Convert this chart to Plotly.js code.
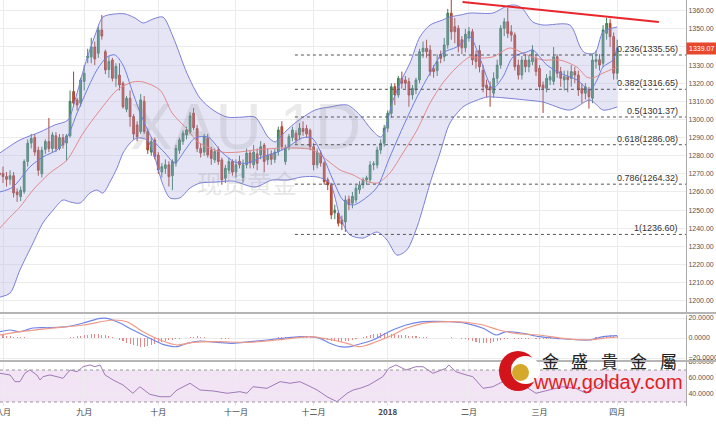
<!DOCTYPE html>
<html><head><meta charset="utf-8">
<script src="https://cdn.plot.ly/plotly-3.0.1.min.js"></script>
<style>html,body{margin:0;padding:0;background:#fff}#chart{width:716px;height:424px}</style>
</head><body><div id="chart"></div>
<script>
// ---- Daily XAUUSD candles (index -1 = last day of July 2017, 0 = 1 Aug 2017, ... 174 = 2 Apr 2018)
const opens = [
1270.5,1270.3,1268.5,1267,1269,1260,1257.5,1260.2,1276.8,1287,
1290,1283,1270,1283.5,1287.8,1284,1291,1284,1290,1287,
1291,1315.4,1310.8,1309,1321,1334,1334.5,1340,1336.5,1349.4,
1337.4,1327.5,1332.8,1322.7,1324.5,1320,1305.6,1311.7,1301.6,1297,
1293.3,1310,1293.3,1282,1288.7,1280.4,1271,1273,1275,1269,
1276,1283,1288,1291.5,1293,1303.5,1295,1284,1282,1289.6,
1283.2,1277.7,1283.2,1277.7,1267.6,1272,1276.8,1271,1277,1268,
1275,1281.5,1275,1281,1280.4,1285.9,1277.7,1281,1278,1282.3,
1296,1276.8,1285,1290,1292.4,1291.5,1295,1295,1294,1285,
1275,1281.4,1276,1266.7,1264,1248.5,1248.3,1244.6,1243.5,1256,
1253.8,1255.6,1261.2,1264,1266.7,1266.7,1275,1274.9,1283.2,1286.9,
1295.2,1303.4,1318.1,1313.5,1322.7,1321.8,1320.9,1313.5,1316.3,1321.8,
1337.4,1339.3,1338.3,1328,1326.9,1335.6,1334.6,1341.1,1358.6,1351.2,
1350.3,1344,1339.5,1345,1348.4,1335.6,1338,1327,1319,1318,
1314.5,1322.7,1330,1350.3,1353.9,1348.4,1346.6,1330,1324.5,1332.8,
1329.1,1331.9,1333.7,1328.2,1319,1317.2,1321.8,1321,1334.6,1326.4,
1321.8,1323.6,1322.7,1326.4,1324.5,1317.2,1314.5,1316.3,1311.7,1331.9,
1333,1331,1347.5,1353,1345.7,1325.5];
const highs = [
1273,1274,1271,1272,1271,1262,1263,1278,1289,1292,
1292,1285,1285,1289,1300.8,1293,1293,1292,1292,1292,
1316,1326.4,1312,1323,1330,1339,1345,1343,1351,1357.6,
1338.5,1335,1334,1331,1331,1321,1313,1316,1303,1299,
1314,1313,1295,1290,1290,1282,1276,1278,1277,1278,
1286,1290,1294,1296,1304,1306.3,1297,1287,1292,1292,
1285,1284,1285,1279,1275,1279,1278,1278,1280,1278,
1284,1283,1286,1284,1288,1287,1284,1283,1284,1296,
1299,1286,1292,1296,1294,1298,1299,1297,1295,1287,
1284,1283,1277,1268,1265,1253,1250,1247,1258,1258,
1260,1264,1266,1268,1269,1277,1277,1285,1289,1297,
1305,1320,1320,1324,1326.4,1324,1323,1319,1323,1339,
1343,1344,1341,1330,1336,1338,1345,1361,1366,1356,
1352,1346,1350,1351,1350,1338,1341,1330,1322,1321,
1326,1333,1352,1356,1361.5,1352,1348,1333,1335,1336,
1335,1341,1336,1330,1321,1325,1327,1340,1336,1329,
1327,1327,1330,1329,1327,1320,1320,1318,1336,1338,
1336,1352,1356,1355.5,1348,1344];
const lows = [
1267,1265,1263,1264,1257,1254.5,1255,1259,1274,1284,
1280,1269,1268,1281,1282,1282,1282,1283,1284,1277,
1290,1307,1305,1307,1316,1331,1331,1330,1334,1344,
1325,1323,1321,1318,1316,1306,1304,1296,1289,1288,
1292,1292,1281,1280,1278,1270,1268,1270,1263,1261,
1274,1281,1286,1289,1292,1294,1282,1279,1280,1279,
1275,1276,1275,1264,1265,1270,1269,1268,1273,1265,
1273,1273,1273,1272,1278,1271,1275,1275,1276,1280,
1283,1275,1283,1288,1286,1289,1291,1290,1283,1272,
1273,1274,1264,1261,1245,1245,1241,1239,1238,1250,
1251,1254,1259,1262,1264,1265,1272,1273,1281,1285,
1293,1301,1308,1312,1317,1317,1307,1311,1314,1320,
1334,1334,1324,1323,1324,1331,1332,1339,1344,1342,
1337,1336,1337,1343,1330,1328,1326,1315,1312,1307,
1312,1320,1328,1346,1345,1343,1327,1322,1322,1326,
1326,1330,1324,1316,1303.6,1315,1319,1319,1323,1318,
1316,1315,1318,1320,1313,1309,1311,1306,1309,1328,
1327,1329,1344,1340,1322,1322];
const closes = [
1269.5,1268.5,1267,1269,1259.5,1258.5,1261,1276.8,1286.9,1289.6,
1282,1272,1283,1287.8,1284,1291.5,1284,1290,1286,1291,
1310,1309,1308,1321.8,1325.5,1335,1340,1333.4,1349.4,1346,
1327.3,1332,1322.7,1329.2,1319,1307,1311.7,1301.6,1292,1290.5,
1310.8,1293.3,1283.2,1287.8,1279.5,1272.2,1274,1275,1268.5,1276.8,
1284,1288.7,1292.4,1294.2,1302,1295.5,1284,1281.5,1290.5,1280.4,
1278.5,1282.3,1276.8,1266.7,1273.1,1276.8,1271,1275,1275,1275,
1281.4,1276,1282,1275.8,1285,1276.8,1280.4,1278,1282,1294.2,
1285,1284,1290.5,1294.2,1288.7,1295.2,1293.3,1292,1285,1275,
1282,1276,1265.7,1264,1247.4,1250,1242.8,1242.4,1255.6,1253,
1257.6,1262.1,1263.9,1266.7,1267.8,1274.9,1275.5,1283.2,1286.9,1295.2,
1303.4,1318.1,1313.5,1322.7,1320,1320,1313.5,1317.2,1321.8,1337.4,
1339.3,1337.4,1326.4,1326.4,1331.9,1333.7,1341.1,1358.6,1348.4,1348.4,
1340.2,1339.5,1347,1348.5,1332.8,1332,1329.1,1318.1,1317.2,1316.3,
1322.7,1330,1350.3,1353.9,1347.5,1346.6,1329.1,1324.5,1332.8,1329.1,
1332.8,1338.3,1326.4,1318.1,1317.2,1322.7,1323.6,1334.6,1325.5,1322.7,
1323.6,1322,1326.4,1324.5,1316.3,1314.5,1318,1312.6,1332.8,1333,
1330,1349.4,1353,1345.7,1325.5,1339.07];

// MACD histogram, one bar per candle
const macdHist = [
3,3,2.5,2,1.5,1,0.8,0.6,0.5,0.5,
0.4,0.3,0.3,0.3,0.4,0.4,0.4,0.5,0.5,0.5,
1,1.5,2,2.5,3,3.5,4,4,4,3.5,
3,2,1,0,-1.5,-3,-4.5,-6,-7,-8,
-8.5,-8.5,-8,-7,-6,-5,-4,-3,-2,-1.5,
-1,-0.5,0,0.5,1,1.5,2,1.5,1,0.5,
0.3,0,-0.3,-0.5,-0.5,-0.5,-0.3,-0.2,0,0.2,
0.3,0.4,0.5,0.5,0.5,0.4,0.3,0.3,0.5,0.8,
1,1,1.2,1.5,1.5,1.5,1.5,1.2,1,0.5,
0,-0.5,-1,-2,-2.5,-3,-3.5,-3.5,-3,-2.5,
-2,-1,0,1,2,3,4,4.5,5,5,
5,4.5,4,3.5,3,3,2.5,2,2,1.5,
1.5,1,0.5,0.3,0,0,0.3,0.5,0.8,0.5,
0,-0.5,-1,-1.5,-2.5,-3.5,-4.5,-5,-5,-4.5,
-4,-3,-2,-1,-0.5,0,-0.5,-1,-1,-0.8,
-0.5,-0.3,-0.5,-0.8,-1,-1,-0.8,-0.5,-0.5,-0.3,
-0.3,-0.2,0,0,-0.2,-0.3,-0.3,-0.2,0.5,1,
1.5,2,2.5,3,2.5,2];

// Indicator lines (candle index, value)
const upperIdx = [-0.9,4.8,10.5,14.7,18.4,20.4,23.2,26.1,28.3,31.7,34.6,37.4,39.7,42.5,45.3,48.2,52.1,55.8,59.5,63.5,67.7,71.4,75.1,77.1,79,82.7,88.4,92.6,97.5,101.1,104.5,107.1,110.5,113.3,115.3,118.1,121,124.6,126.6,129.5,132.3,138.8,142.8,145,147,150.1,153,160.6,163.5,164.9,167.7,170,174];
const upperVal = [1281.5,1288.7,1293.1,1297,1299.7,1310.7,1330,1346.6,1356.5,1358.2,1358.2,1356,1353.2,1355.4,1356.5,1345.5,1325.6,1311.8,1305.2,1301.3,1301.3,1301.3,1290.3,1287.6,1291.4,1298,1305.2,1306.9,1308,1302.5,1294.2,1290.3,1310.7,1323.4,1331.1,1345.5,1352.1,1354.9,1356.5,1357.6,1358.7,1358.7,1362.6,1363.1,1361.5,1353.8,1352.1,1352.1,1340,1336.7,1336.7,1348.2,1351];
const lowerIdx = [-0.9,2,4.8,8.5,11.3,14.2,17,19,21.8,24.6,26.6,28.3,30.3,32.3,34,36,38,40.8,42.6,45.3,47.3,50.1,53,55.8,60.6,65.2,71.4,76.2,80.7,84.7,89,92.6,95.5,98.3,102,106,108.8,111.6,114.4,117.3,121,123.8,126.6,130.3,132.3,137.1,138.8,148.4,153,160.6,166.3,170,174];
const lowerVal = [1202,1204.2,1217,1231.8,1242.9,1250,1255.6,1254.5,1253.9,1259.4,1261.1,1259.4,1265.5,1273.2,1281.5,1287,1289.8,1288.7,1281.5,1264,1256.7,1256.7,1262.2,1264.9,1265.5,1266,1262.7,1266.6,1266.6,1268.3,1268.3,1264.9,1246.2,1236.3,1234.6,1237.9,1233.5,1225.2,1228,1240.7,1264.9,1281.5,1298,1306.9,1309.1,1312.4,1312.4,1310.7,1309.6,1305.2,1310.7,1305.2,1306.9];
const maRedIdx = [-0.9,2,4.8,8.5,13.3,18.1,22.7,27.5,32.3,36.8,39.7,44.5,47.9,52.4,55.2,62,66.6,71.4,80.7,87.8,91.8,95.5,99.2,102,106,109.6,113.3,117.3,121,124.6,128.6,132.3,134.3,138.8,143.6,148.4,153,157.8,162.6,165.4,167.1,170,174];
const maRedVal = [1240.1,1246.2,1251.7,1261.1,1270.5,1277.6,1292.5,1305.2,1316.2,1320.7,1320.7,1316.2,1303.6,1294.2,1287.6,1282,1282,1283.2,1284.3,1283.2,1277.6,1272.1,1269.4,1266.6,1264.9,1270.5,1281.5,1294.2,1309.1,1320.1,1328.9,1334.5,1333.9,1334.5,1339.4,1335.6,1332.8,1332.8,1328.9,1323.4,1322.9,1325.6,1328.9];
const maBlueIdx = [-0.9,2.8,7.6,11.3,15.3,18.1,21,23.8,26.6,29.5,31.7,34,36.8,39.7,42.5,45.9,48.7,51.6,54.4,58.1,62,65.7,69.4,73.4,77.1,80.7,84.7,87.5,90.7,93.5,96.3,99.2,103.1,106,109.6,113.3,117.3,121,124.6,128.6,132.3,135.1,138.8,141.6,144.5,148.4,150.1,154.1,157.8,162.6,166.3,168.3,170,172.8,174];
const maBlueVal = [1260,1262.7,1273.8,1279.3,1283.2,1289.8,1303.6,1316.2,1327.3,1334.5,1335.6,1330,1314.6,1299.7,1288.7,1281.5,1276,1283.2,1289.8,1290.3,1282,1276.5,1276,1279.3,1281.5,1284.8,1289.8,1289.8,1279.3,1266.6,1255.6,1252.8,1257.2,1262.7,1279.3,1295.8,1312.4,1325.6,1336.7,1340,1345.5,1333.9,1317.3,1323.4,1334.5,1337.2,1338.3,1330,1325.6,1321.8,1316.2,1321.8,1329,1332.8,1340];

const macdIdx = [-0.9,2,4.8,8.5,13.3,18.1,22.7,27.5,29.5,33.1,36.8,41.6,45.3,49.3,52.1,55.8,60.6,65.2,70,74.8,79.3,84.1,87,89.8,92.6,95.5,98.3,100,104.8,109.3,114.2,119,126.3,131.2,136,139.7,142.5,147.3,151.8,156.7,166,170,174];
const macdVal = [6.3,8,6.3,10,10.3,11.3,15,19.7,19.7,15,8,-0.3,-6.3,-8.7,-5.3,-3,-4.3,-5.3,-3.7,-2,-0.3,1.3,1.3,-0.3,-5.3,-8.7,-8.7,-7,-2,6.3,13,16.3,16.3,14.7,9.7,3,6.3,4.7,1.3,-0.3,-2,1.3,2.3];
const signalIdx = [-0.9,4.8,13.3,22.7,31.2,35.1,39.7,44.5,49.3,53.8,60.6,70,79.3,87,91.8,97.5,101.1,109.3,114.2,119,126.3,131.2,136,140.5,145.3,151.8,158.6,166,170,174];
const signalVal = [3,6.3,9.7,13,18,16.3,6.3,-2,-7,-4.3,-3.7,-4.3,-1.3,1.3,-1,-5.3,-8.7,1.3,9.7,14.7,16.3,15.7,13,8,4.7,3,-0.3,-2,-0.3,1];

const rsiIdx = [-0.9,2,3.4,4.8,6.2,7.6,9.6,10.5,11.3,13.3,15.3,17,19,21,22.7,24.6,26.1,27.5,28.9,31.2,34,36.8,38.8,41.6,44.5,47.3,49.3,53,55.8,59.5,63.5,67.1,69.1,70.8,74.8,78.5,81.3,84.1,86.1,89,91.8,94.6,97.5,99.2,101.1,103.7,107.6,109.3,111.3,114.2,117,119,121.8,125.5,126.3,128.3,131.2,133.1,136,138.8,141.6,144.5,147.3,151,154.7,158.6,162.3,165.2,168,170.8,172.8,174];
const rsiVal = [65.9,63.8,55.4,55.4,65.9,70,63.8,57.5,61.6,63.8,61.6,59.6,70,67.9,74.1,76.3,74.1,76.3,63.8,57.5,51.3,40.9,49.1,39.6,36.6,36.6,45,53.4,45,43.8,40.9,42.9,40.9,49.1,47.1,55.4,53.4,55.4,51.3,45,36.6,30.4,40.9,45,47.1,51.3,61.6,72.1,76.3,70,74.1,74.1,65.9,72.1,76.3,67.9,63.8,61.6,47.1,49.1,55.4,55.4,51.3,40.9,45,49.1,47.1,40.9,49.1,57.5,53.4,51.3];

const fibLevels = [1335.56,1316.65,1301.37,1286.08,1264.32,1236.60];
const fibRatios = ['0.236','0.382','0.5','0.618','0.786','1'];
const fibStartIdx = 82.7;
const trendIdx = [130.2,185.8];
const trendVal = [1364.8,1353.8];
const lastPrice = 1339.07;

const monthIdx = [0,23,44,66,88,109,132,152,174];
const monthLabels = ['八月','九月','十月','十一月','十二月','<b>2018</b>','二月','三月','四月'];
const priceTicks = [1200,1210,1220,1230,1240,1250,1260,1270,1280,1290,1300,1310,1320,1330,1340,1350,1360];

const xIdx = opens.map((_, k) => k - 1);
const XMAX = 193.5;

const traces = [
  {type:'scatter', mode:'lines', x:lowerIdx, y:lowerVal, xaxis:'x', yaxis:'y',
   line:{color:'#7c80d8', width:1, shape:'spline', smoothing:0.8}, hoverinfo:'skip'},
  {type:'scatter', mode:'lines', x:upperIdx, y:upperVal, xaxis:'x', yaxis:'y', fill:'tonexty',
   fillcolor:'rgba(170,170,225,0.30)', line:{color:'#7c80d8', width:1, shape:'spline', smoothing:0.8}, hoverinfo:'skip'},
  {type:'scatter', mode:'lines', x:maRedIdx, y:maRedVal, xaxis:'x', yaxis:'y',
   line:{color:'#e48a8a', width:1, shape:'spline', smoothing:0.8}},
  {type:'scatter', mode:'lines', x:maBlueIdx, y:maBlueVal, xaxis:'x', yaxis:'y',
   line:{color:'#6d7fe0', width:1, shape:'spline', smoothing:0.8}},
  {type:'candlestick', x:xIdx, open:opens, high:highs, low:lows, close:closes, xaxis:'x', yaxis:'y',
   increasing:{line:{color:'#3f7f5c', width:1}, fillcolor:'#4e9a70'},
   decreasing:{line:{color:'#a8432f', width:1}, fillcolor:'#cf4f38'},
   whiskerwidth:0},
  {type:'bar', x:xIdx, y:macdHist, xaxis:'x', yaxis:'y2', width:0.3,
   marker:{color:'#e58a8a', line:{width:0}}},
  {type:'scatter', mode:'lines', x:macdIdx, y:macdVal, xaxis:'x', yaxis:'y2',
   line:{color:'#6f86ea', width:1.2, shape:'spline', smoothing:0.8}},
  {type:'scatter', mode:'lines', x:signalIdx, y:signalVal, xaxis:'x', yaxis:'y2',
   line:{color:'#f09a86', width:1.2, shape:'spline', smoothing:0.8}},
  {type:'scatter', mode:'lines', x:rsiIdx, y:rsiVal, xaxis:'x', yaxis:'y3',
   line:{color:'#a178b8', width:1}}
];

const shapes = [];
const annotations = [];
// RSI band
shapes.push({type:'rect', xref:'paper', yref:'y3', x0:0, x1:1, y0:30, y1:70, fillcolor:'#f2e4f4', line:{width:0}, layer:'below'});
[30,70].forEach(v => shapes.push({type:'line', xref:'paper', yref:'y3', x0:0, x1:1, y0:v, y1:v, line:{color:'#999', width:1, dash:'dot'}}));
// Panel separators
[0.229, 0.1108].forEach(v => shapes.push({type:'line', xref:'paper', yref:'paper', x0:0, x1:1.044, y0:v, y1:v, line:{color:'#b5b5b5', width:2}}));
// Fibonacci lines + labels
fibLevels.forEach((lv, k) => {
  shapes.push({type:'line', xref:'x', yref:'y', x0:fibStartIdx, x1:XMAX, y0:lv, y1:lv, line:{color:'#555', width:1, dash:'dot'}});
  annotations.push({xref:'x', yref:'y', x:191.8, y:lv, xanchor:'right', yanchor:'bottom', showarrow:false,
    text: fibRatios[k] + '(' + lv.toFixed(2) + ')', font:{size:9, color:'#333', family:'Liberation Sans, Arial, sans-serif'}, yshift:-1});
});
// Trend line
shapes.push({type:'line', xref:'x', yref:'y', x0:trendIdx[0], x1:trendIdx[1], y0:trendVal[0], y1:trendVal[1], line:{color:'#e8262c', width:2}});
// Current price box
annotations.push({xref:'paper', yref:'y', x:1.0, y:lastPrice, xanchor:'left', yanchor:'middle', showarrow:false,
  text:lastPrice.toFixed(2), bgcolor:'#e5482f', font:{size:7, color:'#fff', family:'Liberation Sans, Arial, sans-serif'}, borderpad:2});
// Watermarks
annotations.push({xref:'paper', yref:'paper', x:245/686, y:(406-127)/406, xanchor:'center', yanchor:'middle', showarrow:false, text:'XAU 1D',
  font:{size:64, color:'rgba(130,130,130,0.17)', family:'Liberation Sans, Arial, sans-serif'}});
annotations.push({xref:'paper', yref:'paper', x:247/686, y:(406-182)/406, xanchor:'center', yanchor:'middle', showarrow:false, text:'现货黄金',
  font:{size:25, color:'rgba(130,130,130,0.2)', family:'Noto Sans CJK SC, sans-serif'}});
// Logo
shapes.push({type:'circle', xref:'paper', yref:'paper', x0:499/686, x1:537/686, y0:(406-391)/406, y1:(406-351)/406, fillcolor:'#d3141b', line:{width:0}});
shapes.push({type:'circle', xref:'paper', yref:'paper', x0:511/686, x1:540/686, y0:(406-384)/406, y1:(406-356)/406, fillcolor:'#ffffff', line:{width:0}});
shapes.push({type:'circle', xref:'paper', yref:'paper', x0:512/686, x1:529/686, y0:(406-381)/406, y1:(406-364)/406, fillcolor:'#d4a82a', line:{width:0}});
const logoChars = ['金','盛','貴','金','屬'];
logoChars.forEach((c, k) => annotations.push({xref:'paper', yref:'paper', x:(550 + k*29.5)/686, y:(406-360)/406,
  xanchor:'center', yanchor:'middle', showarrow:false, text:c, font:{size:17, color:'#222', family:'Noto Sans CJK TC, sans-serif'}}));
annotations.push({xref:'paper', yref:'paper', x:608/686, y:(406-382)/406, xanchor:'center', yanchor:'middle', showarrow:false, text:'www.golday.com',
  font:{size:20, color:'#e3201c', family:'Liberation Sans, Arial, sans-serif'}});

const axFont = {size:7, color:'#555', family:'Liberation Sans, Arial, sans-serif'};
const yCommon = {side:'right', gridcolor:'#ececec', zeroline:false, showline:true, linecolor:'#aaa',
  ticks:'', ticklen:0, tickfont:axFont};
const layout = {
  width:716, height:424,
  margin:{l:0, r:30, t:0, b:18},
  paper_bgcolor:'#fff', plot_bgcolor:'#fff',
  showlegend:false, bargap:0,
  xaxis:{range:[-0.85, XMAX], tickvals:monthIdx, ticktext:monthLabels, showgrid:true, gridcolor:'#ececec',
    zeroline:false, anchor:'y3', rangeslider:{visible:false}, ticks:'', showline:false, ticklabeloverflow:'allow',
    tickfont:{size:8, color:'#444', family:'Noto Sans CJK SC, sans-serif'}},
  yaxis:Object.assign({domain:[0.2315,1], range:[1193.8,1365.9], tickvals:priceTicks, tickformat:'.2f'}, yCommon),
  yaxis2:Object.assign({domain:[0.1133,0.2241], range:[-22,23], tickvals:[-20,0,20], tickformat:'.4f'}, yCommon),
  yaxis3:Object.assign({domain:[0,0.1084], range:[25,80], tickvals:[40,60,80], tickformat:'.4f'}, yCommon),
  shapes:shapes, annotations:annotations
};
Plotly.newPlot('chart', traces, layout, {displayModeBar:false, staticPlot:true});
</script></body></html>
